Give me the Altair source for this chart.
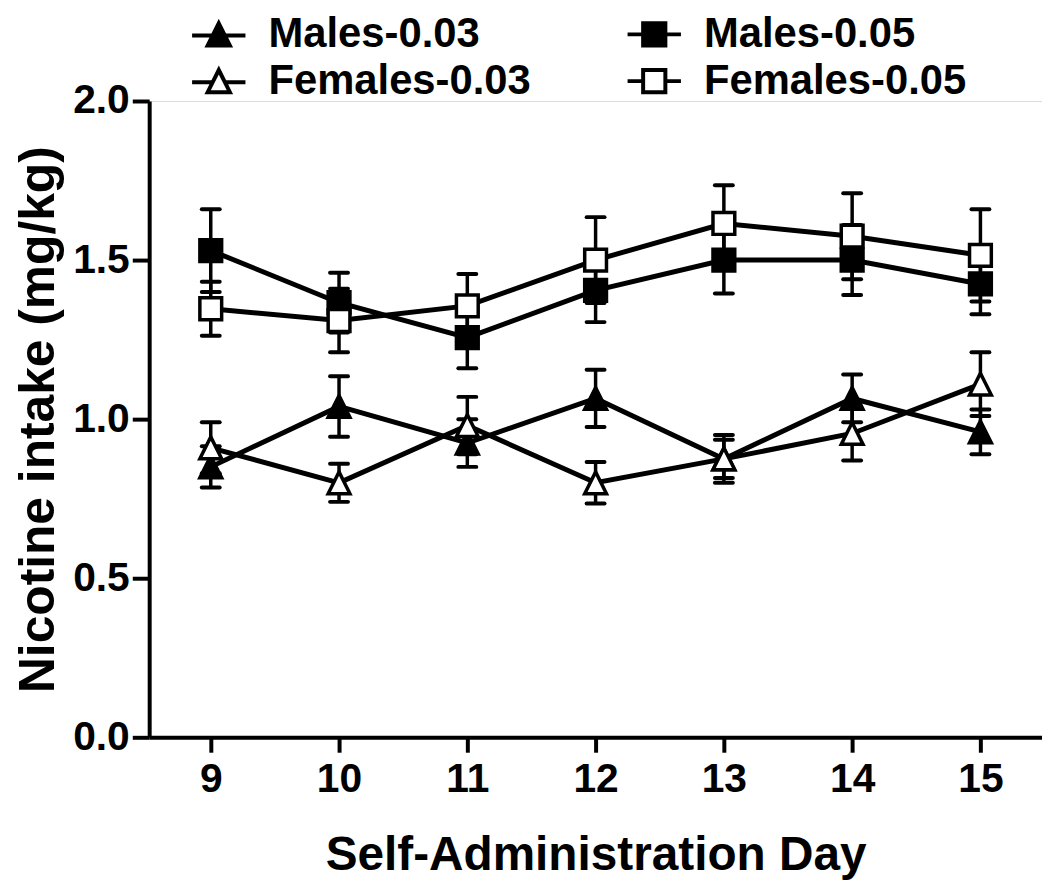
import altair as alt
import pandas as pd

days = [9, 10, 11, 12, 13, 14, 15]
series_names = ["Males-0.03", "Females-0.03", "Males-0.05", "Females-0.05"]

m03_mean = [0.85, 1.04, 0.925, 1.065, 0.875, 1.065, 0.96]
m03_sem = [0.065, 0.095, 0.075, 0.09, 0.06, 0.075, 0.07]
f03_mean = [0.91, 0.80, 0.98, 0.80, 0.875, 0.955, 1.11]
f03_sem = [0.08, 0.06, 0.09, 0.065, 0.075, 0.085, 0.10]
m05_mean = [1.53, 1.366, 1.256, 1.405, 1.50, 1.50, 1.425]
m05_sem = [0.13, 0.094, 0.096, 0.10, 0.105, 0.11, 0.095]
f05_mean = [1.347, 1.31, 1.356, 1.50, 1.615, 1.575, 1.515]
f05_sem = [0.085, 0.10, 0.10, 0.135, 0.12, 0.135, 0.145]

y_ticks = [0.0, 0.5, 1.0, 1.5, 2.0]

rows = []
for order, (name, means, sems) in enumerate([
    ("Males-0.03", m03_mean, m03_sem),
    ("Males-0.05", m05_mean, m05_sem),
    ("Females-0.03", f03_mean, f03_sem),
    ("Females-0.05", f05_mean, f05_sem),
]):
    for d, m, s in zip(days, means, sems):
        rows.append({"day": d, "series": name, "mean": m, "lo": m - s, "hi": m + s, "ord": order})
df = pd.DataFrame(rows)

FONT = "Liberation Sans"

x_enc = alt.X("day:Q",
              scale=alt.Scale(domain=[8.52, 15.48], nice=False, zero=False),
              axis=alt.Axis(values=days, format="d", title="Self-Administration Day",
                            labelFontSize=41, labelFont=FONT, labelFontWeight="bold",
                            labelColor="black", tickSize=15, tickWidth=4, tickColor="black",
                            domainWidth=4, domainColor="black", labelPadding=8,
                            titleFontSize=48, titleFont=FONT, titleFontWeight="bold",
                            titleColor="black", titlePadding=32, grid=False, labelFlush=False))
y_scale = alt.Scale(domain=[0, 2], nice=False, zero=True)
y_axis = alt.Axis(values=y_ticks, format=".1f", title="Nicotine intake (mg/kg)",
                  labelFontSize=41, labelFont=FONT, labelFontWeight="bold", labelColor="black",
                  tickSize=17, tickWidth=4, tickColor="black", domainWidth=4, domainColor="black",
                  labelPadding=3, titleFontSize=50, titleFont=FONT, titleFontWeight="bold",
                  titleColor="black", titlePadding=9, grid=False)

base = alt.Chart(df)

stems = base.mark_rule(color="black", strokeWidth=3.5).encode(
    x=x_enc, y=alt.Y("lo:Q", scale=y_scale, axis=y_axis), y2="hi:Q", detail="series:N")
caps_lo = base.mark_rule(color="black", strokeWidth=4, strokeCap="round", xOffset=-9, x2Offset=9).encode(
    x="day:Q", x2="day:Q", y="lo:Q")
caps_hi = base.mark_rule(color="black", strokeWidth=4, strokeCap="round", xOffset=-9, x2Offset=9).encode(
    x="day:Q", x2="day:Q", y="hi:Q")
lines = base.mark_line(color="black", strokeWidth=5).encode(
    x="day:Q", y="mean:Q", detail="series:N", order="day:Q")

TRI = "M0,-1L1,1L-1,1Z"
points = base.mark_point(filled=True, stroke="black", strokeWidth=3.5, size=480, opacity=1).encode(
    x="day:Q", y="mean:Q",
    shape=alt.Shape("series:N", scale=alt.Scale(domain=series_names, range=[TRI, TRI, "square", "square"]), legend=None),
    fill=alt.Fill("series:N", scale=alt.Scale(domain=series_names, range=["black", "white", "black", "white"]), legend=None),
    order="ord:Q")

leg_shapes = [
    "M-2.4,0.1H2.4M0,-1L1,1L-1,1Z",
    "M-2.4,0.1H-0.55M0.55,0.1H2.4M0,-1L1,1L-1,1Z",
    "M-2.4,0H2.4M-1,-1H1V1H-1Z",
    "M-2.4,0H-1M1,0H2.4M-1,-1H1V1H-1Z",
]
legend = alt.Legend(title=None, orient="none", legendX=49, legendY=-88, columns=2,
                    labelFontSize=42, labelFont=FONT, labelFontWeight="bold", labelColor="black",
                    symbolSize=500, symbolStrokeWidth=4, symbolStrokeColor="black",
                    labelOffset=29, columnPadding=89, rowPadding=5, padding=0, labelLimit=0,
                    symbolOpacity=1)
legend_layer = base.transform_filter("false").mark_point(filled=True, strokeWidth=4, size=500, opacity=1).encode(
    shape=alt.Shape("series:N", scale=alt.Scale(domain=series_names, range=leg_shapes), legend=legend),
    fill=alt.Fill("series:N", scale=alt.Scale(domain=series_names, range=["black", "white", "black", "white"]), legend=legend),
    stroke=alt.Stroke("series:N", scale=alt.Scale(domain=series_names, range=["black", "black", "black", "black"]), legend=legend),
)

chart = alt.layer(stems, caps_lo, caps_hi, lines, points, legend_layer).resolve_scale(
    shape="independent", fill="independent", stroke="independent"
).properties(
    width=898, height=640,
    autosize=alt.AutoSizeParams(type="none"),
    padding={"left": 142, "top": 91, "right": 0, "bottom": 144},
).configure_view(stroke=None).configure(background="white")

chart.save("out.html", embed_options={"renderer": "svg", "actions": False})
